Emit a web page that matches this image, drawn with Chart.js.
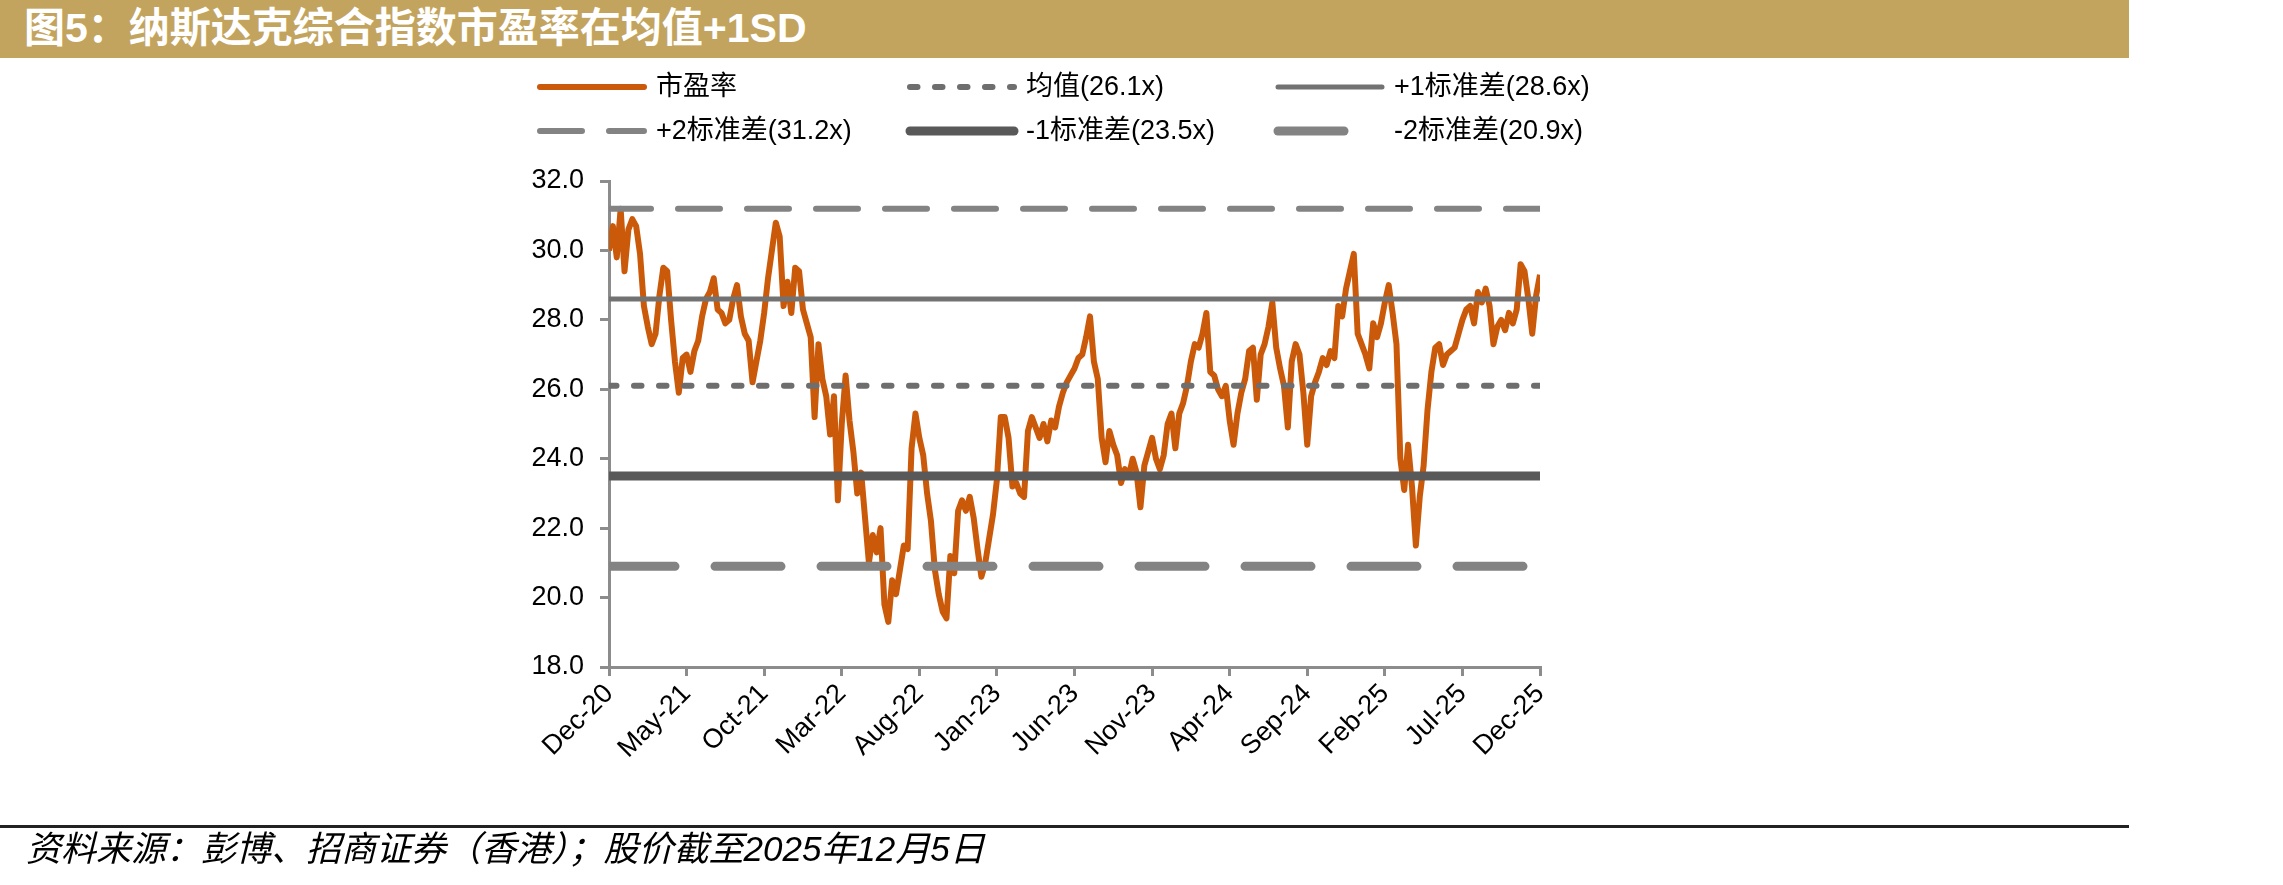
<!DOCTYPE html>
<html>
<head>
<meta charset="utf-8">
<script src="https://cdn.jsdelivr.net/npm/chart.js@4.4.1/dist/chart.umd.min.js"></script>
<style>
  html, body { margin: 0; padding: 0; background: #fff; }
  body { width: 2283px; height: 885px; position: relative; overflow: hidden;
         font-family: 'Liberation Sans', Arial, 'Noto Sans CJK SC', sans-serif; }
  #titleBar { position: absolute; left: 0; top: 0; width: 2129px; height: 58px; background: #C3A45E; }
  #titleBar span { position: absolute; left: 24px; top: 5px; color: #fff; font-weight: bold;
                   font-size: 41px; line-height: 46px; white-space: nowrap; }
  #chart { position: absolute; left: 0; top: 0; }
  #footLine { position: absolute; left: 0; top: 825px; width: 2129px; height: 3px; background: #222; }
  #source { position: absolute; left: 26px; top: 829px; font-size: 35px; font-style: italic;
            line-height: 40px; color: #000; white-space: nowrap; }
</style>
</head>
<body>
<div id="titleBar"><span>图5：纳斯达克综合指数市盈率在均值+1SD</span></div>
<canvas id="chart" width="2283" height="885" style="width:2283px;height:885px;"></canvas>
<div id="footLine"></div>
<div id="source">资料来源：彭博、招商证券（香港）；股价截至2025年12月5日</div>

<script>
// 横轴标签（每5个月一个刻度，Dec-20 起）
const xTickLabels = ['Dec-20', 'May-21', 'Oct-21', 'Mar-22', 'Aug-22', 'Jan-23', 'Jun-23',
                     'Nov-23', 'Apr-24', 'Sep-24', 'Feb-25', 'Jul-25', 'Dec-25'];

// 市盈率，每 1/4 个月一个读数
const peValues = [
  30.0, 30.7, 29.8, 31.2,  29.4, 30.6, 30.9, 30.7,  29.9, 28.4, 27.8, 27.3,
  27.6, 28.7, 29.5, 29.4,  28.0, 26.8, 25.9, 26.9,  27.0, 26.5, 27.1, 27.4,
  28.1, 28.6, 28.8, 29.2,  28.3, 28.2, 27.9, 28.0,  28.6, 29.0, 28.1, 27.6,
  27.4, 26.2, 26.8, 27.4,  28.2, 29.2, 30.0, 30.8,  30.4, 28.4, 29.1, 28.2,
  29.5, 29.4, 28.3, 27.9,  27.5, 25.2, 27.3, 26.3,  25.8, 24.7, 25.8, 22.8,
  25.0, 26.4, 25.1, 24.2,  23.0, 23.6, 22.3, 21.0,  21.8, 21.3, 22.0, 19.8,
  19.3, 20.5, 20.1, 20.8,  21.5, 21.4, 24.3, 25.3,  24.6, 24.1, 23.0, 22.2,
  20.8, 20.1, 19.6, 19.4,  21.2, 20.7, 22.5, 22.8,  22.5, 22.9, 22.3, 21.4,
  20.6, 21.0, 21.7, 22.4,  23.4, 25.2, 25.2, 24.6,  23.2, 23.3, 23.0, 22.9,
  24.8, 25.2, 24.9, 24.6,  25.0, 24.5, 25.1, 24.9,  25.5, 25.9, 26.2, 26.4,
  26.6, 26.9, 27.0, 27.5,  28.1, 26.8, 26.3, 24.6,  23.9, 24.8, 24.4, 24.1,
  23.3, 23.7, 23.5, 24.0,  23.6, 22.6, 23.8, 24.2,  24.6, 24.0, 23.7, 24.1,
  25.0, 25.3, 24.3, 25.3,  25.6, 26.1, 26.8, 27.3,  27.2, 27.6, 28.2, 26.5,
  26.4, 26.0, 25.8, 26.1,  25.1, 24.4, 25.3, 25.9,  26.3, 27.1, 27.2, 25.7,
  27.0, 27.3, 27.8, 28.5,  27.2, 26.6, 26.1, 24.9,  26.8, 27.3, 27.0, 25.9,
  24.4, 25.8, 26.2, 26.5,  26.9, 26.7, 27.1, 26.9,  28.4, 28.1, 28.9, 29.4,
  29.9, 27.6, 27.3, 27.0,  26.6, 27.9, 27.5, 27.9,  28.5, 29.0, 28.2, 27.3,
  24.0, 23.1, 24.4, 23.2,  21.5, 22.9, 23.8, 25.4,  26.5, 27.2, 27.3, 26.7,
  27.0, 27.1, 27.2, 27.6,  28.0, 28.3, 28.4, 27.9,  28.8, 28.5, 28.9, 28.4,
  27.3, 27.8, 28.0, 27.7,  28.2, 27.9, 28.3, 29.6,  29.4, 28.6, 27.6, 28.7,
  29.3
];

// 均值与标准差水平线
const meanPE = 26.1;
const plus1SD = 28.6;
const plus2SD = 31.2;
const minus1SD = 23.5;
const minus2SD = 20.9;

const seriesLabels = ['市盈率', '均值(26.1x)', '+1标准差(28.6x)', '+2标准差(31.2x)', '-1标准差(23.5x)', '-2标准差(20.9x)'];

const axisColor = '#8C8C8C';
const fontFamily = "'Liberation Sans', Arial, 'Noto Sans CJK SC', sans-serif";

const pePoints = peValues.map((v, i) => ({ x: i / 4, y: v }));
const flat = v => [{ x: 0, y: v }, { x: 60, y: v }];

// 图例：三列两行，自己画在画布上
const gridLegend = {
    id: 'gridLegend',
    afterDraw(chart) {
        const ctx = chart.ctx;
        const colX = [540, 910, 1278];
        const rowY = [87, 131];
        const swatch = 104;
        ctx.save();
        chart.data.datasets.forEach((ds, k) => {
            const x = colX[k % 3];
            const y = rowY[Math.floor(k / 3)];
            ctx.beginPath();
            ctx.setLineDash(ds.borderDash || []);
            ctx.lineCap = 'round';
            ctx.lineWidth = ds.borderWidth;
            ctx.strokeStyle = ds.borderColor;
            ctx.moveTo(x, y);
            ctx.lineTo(x + swatch, y);
            ctx.stroke();
            ctx.setLineDash([]);
            ctx.fillStyle = '#000';
            ctx.font = '27px ' + fontFamily;
            ctx.textBaseline = 'middle';
            ctx.fillText(ds.label, x + swatch + 12, y + 1);
        });
        ctx.restore();
    }
};

Chart.defaults.font.family = fontFamily;
Chart.defaults.color = '#000';

new Chart(document.getElementById('chart'), {
    type: 'line',
    data: {
        datasets: [
            { label: seriesLabels[0], data: pePoints, borderColor: '#CA5A0A', borderWidth: 6,
              pointRadius: 0, tension: 0, order: 1, borderJoinStyle: 'round' },
            { label: seriesLabels[1], data: flat(meanPE), borderColor: '#6E6E6E', borderWidth: 6,
              borderDash: [7.5, 17.5], borderCapStyle: 'round', pointRadius: 0, order: 0 },
            { label: seriesLabels[2], data: flat(plus1SD), borderColor: '#727272', borderWidth: 5,
              pointRadius: 0, order: 0 },
            { label: seriesLabels[3], data: flat(plus2SD), borderColor: '#838383', borderWidth: 6,
              borderDash: [42, 27], borderCapStyle: 'round', pointRadius: 0, order: 0 },
            { label: seriesLabels[4], data: flat(minus1SD), borderColor: '#595959', borderWidth: 9,
              pointRadius: 0, order: 0 },
            { label: seriesLabels[5], data: flat(minus2SD), borderColor: '#838383', borderWidth: 9,
              borderDash: [66, 40], borderCapStyle: 'round', pointRadius: 0, order: 0 }
        ]
    },
    options: {
        responsive: false,
        animation: false,
        events: [],
        layout: { padding: { top: 181, right: 743, bottom: 118, left: 0 } },
        plugins: {
            legend: { display: false },
            tooltip: { enabled: false }
        },
        scales: {
            x: {
                type: 'linear',
                min: 0,
                max: 60,
                afterFit: s => { s.height = 100; },
                border: { display: true, color: axisColor, width: 3 },
                grid: { display: true, drawOnChartArea: false, drawTicks: true, tickLength: 9,
                        color: axisColor, lineWidth: 3 },
                ticks: {
                    stepSize: 5,
                    autoSkip: false,
                    maxRotation: 45,
                    minRotation: 45,
                    padding: 2,
                    font: { size: 27 },
                    callback: v => xTickLabels[Math.round(v / 5)]
                }
            },
            y: {
                min: 18,
                max: 32,
                afterFit: s => { s.width = 609; },
                border: { display: true, color: axisColor, width: 3 },
                grid: { display: true, drawOnChartArea: false, drawTicks: true, tickLength: 9,
                        color: axisColor, lineWidth: 3 },
                ticks: {
                    stepSize: 2,
                    padding: 16,
                    font: { size: 27 },
                    callback: v => v.toFixed(1)
                }
            }
        }
    },
    plugins: [gridLegend]
});
</script>
</body>
</html>
